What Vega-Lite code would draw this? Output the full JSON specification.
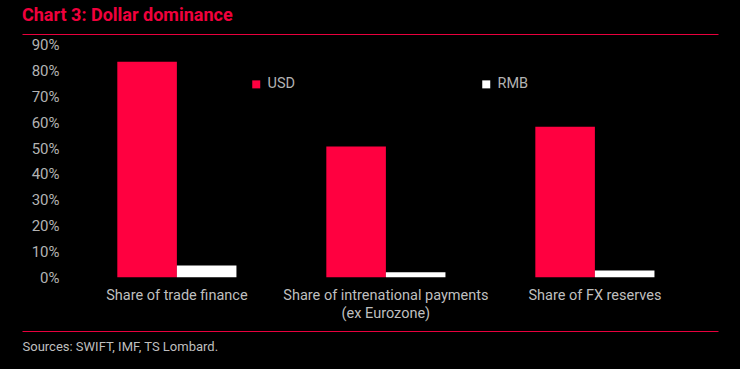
{
  "$schema": "https://vega.github.io/schema/vega-lite/v6.json",
  "width": 696,
  "height": 298,
  "autosize": {"type": "none"},
  "padding": {"left": 22, "top": 33, "right": 22, "bottom": 38},
  "background": "#000000",
  "config": {
    "view": {"stroke": null},
    "font": "Roboto",
    "axisY": {"labelOverlap": false, "tickCount": 20}
  },
  "title": {
    "text": "Chart 3: Dollar dominance",
    "anchor": "start",
    "color": "#F0003C",
    "fontSize": 18,
    "fontWeight": "bold",
    "font": "Roboto",
    "offset": 2
  },
  "data": {
    "values": [
      {"category": "Share of trade finance", "series": "USD", "value": 83.5},
      {"category": "Share of trade finance", "series": "RMB", "value": 4.5},
      {"category": "Share of intrenational payments\n(ex Eurozone)", "series": "USD", "value": 50.6},
      {"category": "Share of intrenational payments\n(ex Eurozone)", "series": "RMB", "value": 1.9},
      {"category": "Share of FX reserves", "series": "USD", "value": 58.3},
      {"category": "Share of FX reserves", "series": "RMB", "value": 2.6}
    ]
  },
  "encoding": {
    "x": {
      "field": "category",
      "type": "nominal",
      "sort": null,
      "scale": {"paddingInner": 0.43, "paddingOuter": 0.38, "align": 0.6},
      "axis": {
        "labels": false,
        "ticks": false,
        "domain": false,
        "title": "Sources: SWIFT, IMF, TS Lombard.",
        "titleAnchor": "start",
        "titleAlign": "left",
        "titleColor": "#bfbfbf",
        "titleFontSize": 13,
        "titleFontWeight": "normal",
        "titleFont": "Roboto",
        "titlePadding": 9
      }
    }
  },
  "layer": [
    {
      "mark": {"type": "bar"},
      "encoding": {
        "xOffset": {"field": "series", "type": "nominal", "sort": ["USD", "RMB"], "scale": {"paddingInner": 0, "paddingOuter": 0}},
        "y": {
          "field": "value",
          "type": "quantitative",
          "scale": {"domain": [-20.86, 94.6], "nice": false, "zero": false},
          "axis": {
            "values": [-20.8, 0, 10, 20, 30, 40, 50, 60, 70, 80, 90, 94.25],
            "tickCount": 20,
            "labelExpr": "datum.value < 0 || datum.value > 91 ? '' : datum.value + '%'",
            "labelOverlap": false,
            "domain": false,
            "ticks": false,
            "offset": -37,
            "labelPadding": 0,
            "labelColor": "#b3b3b3",
            "labelFontSize": 15,
            "labelFont": "Roboto",
            "title": null,
            "grid": true,
            "gridColor": "#E8003D",
            "gridWidth": 1,
            "gridOpacity": {"condition": {"test": "datum.value < 0 || datum.value > 91", "value": 1}, "value": 0}
          }
        },
        "y2": {"datum": 0},
        "color": {
          "field": "series",
          "type": "nominal",
          "sort": ["USD", "RMB"],
          "scale": {"domain": ["USD", "RMB"], "range": ["#FF0040", "#FFFFFF"]},
          "legend": {
            "orient": "none",
            "legendX": 227,
            "legendY": 44,
            "direction": "horizontal",
            "columns": 2,
            "columnPadding": 183,
            "title": null,
            "symbolType": "square",
            "symbolSize": 64,
            "symbolStrokeWidth": 0,
            "labelColor": "#b3b3b3",
            "labelFontSize": 14.5,
            "labelFont": "Roboto",
            "labelOffset": 4
          }
        }
      }
    },
    {
      "transform": [{"filter": "datum.series === 'USD'"}],
      "mark": {
        "type": "text",
        "baseline": "top",
        "align": "center",
        "dy": 12,
        "lineBreak": "\n",
        "lineHeight": 18,
        "fontSize": 14.5,
        "font": "Roboto",
        "color": "#bfbfbf"
      },
      "encoding": {
        "y": {"datum": 0, "type": "quantitative"},
        "text": {"field": "category"}
      }
    }
  ]
}
